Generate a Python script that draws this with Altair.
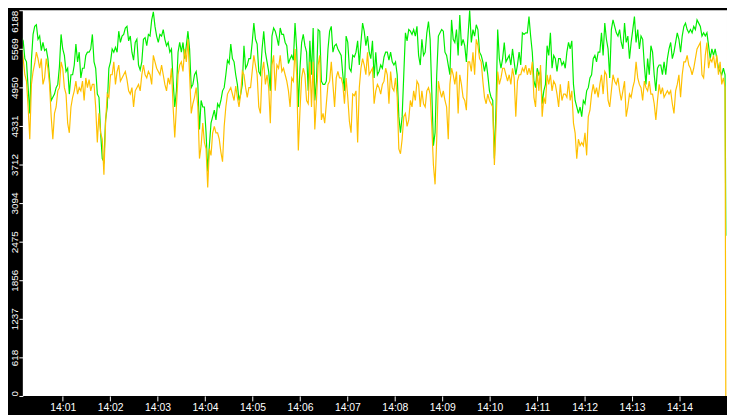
import altair as alt
import pandas as pd

# Sampling: each segment starts at the given second after 14:00:00, one sample every 25/12 s
SEG_START = [1.71, 295.46, 514.2, 739.2]
STEP = 25.0 / 12.0

G1 = [5412, 5722, 5619, 5748, 5697, 5412, 5360, 4946, 4533, 5386,
      5800, 5929, 5955, 5722, 5774, 5541, 5671, 5541, 5567, 5412,
      5102, 4740, 4791, 4843, 4946, 4998, 5283, 5800, 5567, 5464,
      5205, 5257, 4843, 5153, 5153, 5309, 5645, 5360, 5515, 5102,
      5257, 5257, 5464, 5515, 5515, 5567, 5800, 5360, 5257, 4843,
      4791, 4222, 3808, 3757, 4429, 4636, 5257, 5360, 5567, 5515,
      5593, 5515, 5852, 5671, 5774, 5800, 5903, 5929, 5697, 5774,
      5515, 5386, 5671, 5722, 5309, 5231, 5360, 5722, 5748, 5619,
      5800, 5774, 6033, 6162, 5929, 5774, 5671, 5800, 5774, 5878,
      5722, 5619, 5671, 5515, 5567, 5050, 4636, 4895, 5515, 5671,
      5515, 5671, 5412, 5619, 5852, 5567, 4946, 4998, 5153, 5205,
      4998, 4274, 4740, 4636, 4636, 4222, 3601, 4015, 4377, 4481,
      4584, 4429, 4688, 4636, 4740, 4895, 4946, 5153, 5386, 5334,
      5645, 5412, 5360, 5153, 4998, 4740, 4843, 4998, 5619, 5257, 5309]
O1 = [5205, 5257, 5567, 5645, 5412, 5153, 5050, 4636, 4119, 4998,
      5205, 5334, 5515, 5412, 5257, 5412, 4998, 5102, 5412, 5257,
      4998, 4481, 4119, 4533, 4636, 4895, 4946, 5360, 5257, 4946,
      4843, 4377, 4222, 4636, 4791, 4895, 5050, 4843, 4946, 4895,
      5050, 4740, 5102, 4946, 5076, 4895, 4998, 4998, 4636, 4067,
      4533, 4222, 4119, 3550, 4377, 4843, 4791, 5153, 5153, 5360,
      4998, 5205, 5309, 5050, 5102, 5153, 5205, 5076, 4895, 4843,
      4946, 4636, 4895, 4946, 4998, 4895, 5153, 5309, 5153, 5102,
      5205, 5153, 4998, 5464, 5360, 5257, 5205, 5153, 5309, 5153,
      4998, 4895, 5102, 4998, 5257, 4636, 4145, 4636, 5153, 5309,
      5360, 5205, 5567, 5360, 5722, 5153, 4533, 4688, 4791, 4946,
      4636, 3808, 4015, 4377, 4067, 3964, 3343, 3964, 3860, 4222,
      4326, 4222, 4222, 4119, 3912, 3757, 4326, 4636, 4843, 4895,
      4946, 4843, 4740, 4972, 4791, 4636, 4843, 5205, 5153, 4946, 4791]
G2 = [5412, 5412, 5671, 5981, 5722, 5645, 5205, 5153, 5567, 5852,
      5515, 5360, 5205, 4895, 5774, 5903, 5852, 5748, 5619, 5903,
      5800, 5800, 5671, 5619, 5334, 5412, 5464, 5386, 5981, 5567,
      4636, 5257, 5671, 5800, 5619, 5515, 4895, 5697, 5153, 5903,
      4740, 5050, 5878, 5852, 5050, 4998, 4998, 5050, 5567, 5852,
      5929, 5515, 5619, 5645, 5567, 5515, 5464, 5153, 4895, 5774,
      5671, 5257, 5205, 5464, 5438, 5515, 5697, 5309, 5671, 5981,
      5852, 5619, 5774, 5515, 5412, 5697, 5102, 5515, 5153, 5205,
      5309, 5257, 5438, 5515, 5515, 5386, 5515, 5360, 5309, 5360,
      5153, 4481, 4222, 4481, 5153, 5826, 5697, 5878, 5852, 5800,
      5878, 5774, 5929, 5464, 5309]
O2 = [4946, 4946, 5205, 5464, 5309, 5153, 4636, 4533, 5205, 5360,
      4998, 5153, 4946, 4377, 5309, 5464, 4895, 5309, 5257, 5464,
      5205, 5257, 5153, 5050, 4895, 4636, 5102, 5050, 5567, 5153,
      3938, 4584, 5102, 5257, 5153, 4740, 4688, 5360, 4636, 5360,
      4274, 4740, 5309, 5464, 4429, 4533, 4377, 4688, 4998, 5050,
      5360, 4998, 4636, 5102, 5205, 5102, 5102, 4998, 4688, 5102,
      4791, 4403, 4222, 4843, 4817, 4895, 4067, 4946, 5257, 5412,
      5309, 5153, 5515, 5153, 5205, 5257, 4688, 4895, 4998, 4946,
      4843, 4998, 5050, 5257, 5153, 4688, 5205, 4946, 4895, 5102,
      4791, 3964, 3886, 4119, 4481, 4533, 4326, 4429, 4740, 4636,
      4895, 4740, 5050, 4998, 4636]
G3 = [5722, 5464, 5515, 5826, 6007, 5722, 4895, 4015, 4222, 5153,
      5774, 5826, 5878, 5852, 5515, 5464, 5309, 5153, 6033, 5722,
      5671, 5878, 5464, 6110, 5619, 5722, 5619, 5360, 5774, 6188,
      5671, 5878, 5774, 5955, 5878, 5515, 5464, 5360, 5205, 5360,
      5153, 4895, 4791, 4740, 3808, 4636, 5878, 5412, 5257, 5412,
      5671, 5360, 5412, 5464, 5309, 5567, 5360, 5153, 5309, 5515,
      5309, 5826, 5800, 5826, 5826, 6085, 5774, 5515, 5050, 4946,
      5257, 5153, 5205, 4688, 4895, 4998, 5619, 5464, 5826, 5257,
      5464, 5412, 5205, 5412, 5412, 5309, 5360, 5257, 5515, 5671,
      5567, 5697, 4998, 4740, 4636, 4533, 4636, 4481, 4740, 4688,
      4895, 4946, 5102, 5153, 5412, 5464, 5360, 5515]
O3 = [4895, 4688, 4636, 4895, 4946, 4843, 4326, 3705, 3395, 4119,
      5050, 4895, 4791, 4895, 4740, 4636, 4119, 4998, 5257, 5153,
      4998, 5205, 4533, 5153, 4998, 4791, 4740, 4584, 5360, 5360,
      5205, 5515, 5153, 5722, 5619, 5412, 5360, 5050, 4791, 4688,
      4843, 4740, 4688, 4636, 3705, 4326, 5205, 4998, 5102, 5257,
      5257, 5153, 5050, 5153, 4998, 5257, 5102, 4481, 5050, 5153,
      5153, 5257, 5205, 5309, 5153, 5257, 5153, 5360, 4791, 4636,
      5205, 4895, 5309, 4481, 4791, 4688, 5153, 4998, 5153, 4895,
      5050, 4998, 4843, 4636, 4998, 4740, 4843, 4843, 4791, 5050,
      4740, 4895, 4377, 4222, 3808, 4119, 4015, 4067, 4015, 4222,
      3860, 4481, 4584, 4843, 4998, 4843, 4946, 4791]
G4 = [5515, 5826, 5464, 5981, 5722, 5567, 5102, 5878, 6033, 5929,
      5826, 5774, 5878, 5671, 5567, 5981, 5671, 5774, 5412, 5671,
      5878, 6085, 5671, 5878, 5567, 5774, 5722, 5309, 4998, 5412,
      5153, 5619, 5515, 5153, 4895, 5257, 5309, 5309, 5153, 5360,
      5153, 5412, 5567, 5671, 5412, 5515, 5671, 5826, 5722, 5515,
      5774, 5929, 5981, 5878, 5826, 5878, 5826, 5929, 5878, 6033,
      5981, 5929, 5774, 5826, 5774, 5826, 5619, 5412, 5567, 5464,
      5567, 5412, 5257, 5205, 5153, 5257, 5153]
O4 = [4998, 5153, 4843, 5205, 5153, 4740, 4636, 4895, 5153, 5050,
      4998, 5102, 4895, 4740, 4895, 5050, 4481, 4636, 4843, 4791,
      4946, 5050, 5360, 5102, 4998, 4946, 4740, 5050, 4946, 4895,
      5050, 4843, 4843, 4688, 4429, 4740, 4998, 4843, 4946, 4791,
      4843, 4895, 4843, 4895, 4688, 4533, 4895, 4998, 5153, 4791,
      5153, 5360, 5360, 5464, 5309, 5257, 5153, 5257, 5412, 5567,
      5619, 5671, 5153, 5102, 5464, 5671, 5257, 5412, 5360, 5464,
      5257, 5464, 5153, 5360, 4998, 5102, 4946]

END_T = 898.5
END_G = 2570
END_O = 0

Y_TICKS = [0, 618, 1237, 1856, 2475, 3094, 3712, 4331, 4950, 5569, 6188]
X_TICKS = [60 * m for m in range(1, 15)]
X_DOMAIN = [9.6, 900]   # seconds after 14:00:00 visible in the window


def build(segments, end_value, name):
    rows = []
    for start, vals in zip(SEG_START, segments):
        for i, v in enumerate(vals):
            rows.append({"t": start + i * STEP, "v": v, "s": name})
    rows.append({"t": END_T, "v": end_value, "s": name})
    return pd.DataFrame(rows)


green = build([G1, G2, G3, G4], END_G, "green")
orange = build([O1, O2, O3, O4], END_O, "orange")

FONT = "Liberation Sans"

x_enc = alt.X(
    "t:Q",
    scale=alt.Scale(domain=X_DOMAIN, nice=False, zero=False),
    axis=alt.Axis(
        values=X_TICKS,
        labelExpr="'14:' + (datum.value / 60 < 10 ? '0' : '') + (datum.value / 60)",
        title=None, domain=False, grid=False,
        tickColor="white", tickSize=5, tickWidth=1,
        labelColor="white", labelFont=FONT, labelFontSize=10.5, labelPadding=2,
    ),
)
y_enc = alt.Y(
    "v:Q",
    scale=alt.Scale(domain=[0, 6188], nice=False),
    axis=alt.Axis(
        values=Y_TICKS,
        format="d",
        title=None, domain=False, grid=False,
        tickColor="white", tickSize=4, tickWidth=1,
        labelColor="white", labelFont=FONT, labelFontSize=10, labelPadding=1,
        labelAngle=270,
        labelBaseline="alphabetic",
        labelAlign={
            "condition": [
                {"test": "datum.value >= 6000", "value": "right"},
                {"test": "datum.value <= 0", "value": "left"},
            ],
            "value": "center",
        },
    ),
)

g_line = alt.Chart(green).mark_line(color="#00ee00", strokeWidth=1.2, clip=True).encode(x=x_enc, y=y_enc)
o_line = alt.Chart(orange).mark_line(color="#ffc000", strokeWidth=1.2, clip=True).encode(x=x_enc, y=y_enc)

chart = (
    alt.layer(g_line, o_line)
    .properties(
        width=712,
        height=390,
        autosize=alt.AutoSizeParams(type="none"),
        padding={"left": 15, "top": 0, "right": 0, "bottom": 17},
        background="black",
    )
    .configure_view(fill="white", stroke=None, strokeWidth=0)
)

chart.save("out.html", embed_options={"renderer": "svg", "actions": False})
